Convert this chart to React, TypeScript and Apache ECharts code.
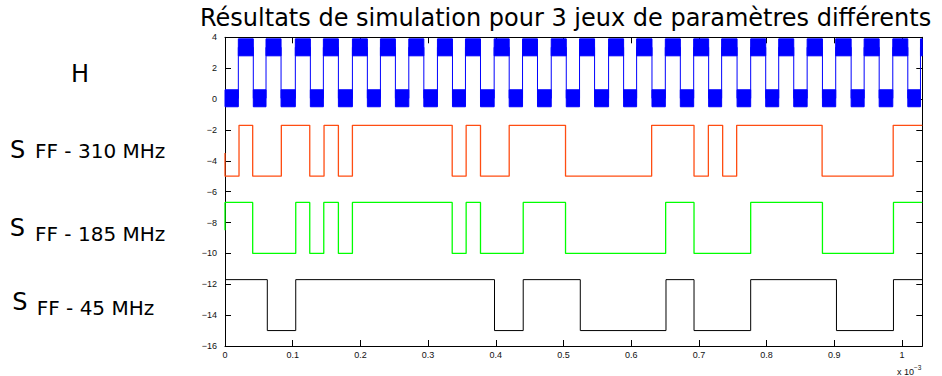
import React, { useEffect, useRef } from "react";
import * as echarts from "echarts";

// ---------- data (x in units of 1e-3 s) ----------
const X_MAX = 1.03;
const Y_MIN = -16;
const Y_MAX = 4;

// H : clock edges
const hRises = [0.0197, 0.0606, 0.1039, 0.1453, 0.1882, 0.2296, 0.2715, 0.3138, 0.3552, 0.3976, 0.4395, 0.4819, 0.5237, 0.5666, 0.608, 0.6504, 0.6923, 0.7336, 0.7765, 0.8179, 0.8599, 0.9021, 0.9441, 0.9864, 1.0273];
const hFalls = [0.0418, 0.0828, 0.1261, 0.1675, 0.2103, 0.2517, 0.2937, 0.336, 0.3774, 0.4198, 0.4616, 0.5041, 0.5459, 0.5888, 0.6307, 0.6726, 0.7144, 0.7564, 0.7987, 0.8401, 0.8825, 0.9249, 0.9663, 1.0086];
const hLevels = [0.05, 3.35]; // low, high
const hLowBand = [-0.5, 0.6];
const hHighBand = [2.8, 3.9];

// S FF - 310 MHz
const s310Start = -3.5;
const s310Levels = [-5, -1.7]; // first level, other level
const s310Edges = [0.0207, 0.0409, 0.0832, 0.1252, 0.1463, 0.1675, 0.1882, 0.3356, 0.3562, 0.3774, 0.4198, 0.503, 0.6302, 0.6928, 0.714, 0.7351, 0.7558, 0.882, 0.987];

// S FF - 185 MHz
const s185Start = -8.5;
const s185Levels = [-6.7, -10];
const s185Edges = [0.0409, 0.1045, 0.1252, 0.1459, 0.1675, 0.1882, 0.3356, 0.3562, 0.3774, 0.4405, 0.503, 0.6509, 0.6928, 0.7765, 0.8825, 0.9874];

// S FF - 45 MHz
const s45Start = -11.7;
const s45Levels = [-11.7, -15];
const s45Edges = [0.0625, 0.1045, 0.3981, 0.4405, 0.5248, 0.6514, 0.6928, 0.7765, 0.9032, 0.9874];

const titleText = "Résultats de simulation pour 3 jeux de paramètres différents";

// ---------- helpers ----------
function stepPoints(start: number, levels: number[], edges: number[]) {
  const pts: number[][] = [[0, start]];
  let idx = 0;
  pts.push([0, levels[idx]]);
  for (const t of edges) {
    idx = 1 - idx;
    pts.push([t, levels[idx]]);
  }
  pts.push([X_MAX, levels[idx]]);
  return pts;
}

function clockEdges() {
  const e: number[] = [];
  for (let i = 0; i < hRises.length; i++) {
    e.push(hRises[i]);
    if (i < hFalls.length) e.push(hFalls[i]);
  }
  return e;
}

function clockBands() {
  const areas: any[] = [];
  const band = (x0: number, x1: number, b: number[]) => [
    { xAxis: x0, yAxis: b[0] },
    { xAxis: x1, yAxis: b[1] },
  ];
  areas.push(band(0, hRises[0], hLowBand));
  for (let i = 0; i < hFalls.length; i++) {
    areas.push(band(hRises[i], hFalls[i], hHighBand));
    if (i + 1 < hRises.length) areas.push(band(hFalls[i], hRises[i + 1], hLowBand));
  }
  if (hRises.length > hFalls.length) areas.push(band(hRises[hRises.length - 1], X_MAX, hHighBand));
  return areas;
}

const minus = (v: number) => (v < 0 ? "\u2212" + Math.abs(v) : String(v));

export default function App() {
  const ref = useRef<HTMLDivElement>(null);
  useEffect(() => {
    if (!ref.current) return;
    const chart = echarts.init(ref.current, undefined, { renderer: "svg" });
    const axisFont = "Liberation Sans";
    const lineStyle = { color: "#000", width: 1 };
    const common = {
      type: "value" as const,
      splitLine: { show: false },
      axisLine: { show: true, onZero: false, lineStyle },
      axisTick: { show: true, inside: true, length: 6, lineStyle },
    };
    const labelFont = "DejaVu Sans";
    const txt = (text: string, x: number, y: number, size: number) => ({
      type: "text",
      x,
      y,
      silent: true,
      style: {
        text,
        fontFamily: labelFont,
        fontSize: size,
        fill: "#000",
        align: "left",
        verticalAlign: "middle",
      },
    });

    const hData = stepPoints(hLevels[0], hLevels, clockEdges());

    chart.setOption({
      animation: false,
      backgroundColor: "#fff",
      grid: { left: 225, top: 37.3, width: 697.3, height: 308.7, containLabel: false },
      xAxis: [
        {
          ...common,
          min: 0,
          max: X_MAX,
          interval: 0.1,
          position: "bottom",
          axisLabel: {
            fontSize: 9,
            fontFamily: axisFont,
            color: "#111",
            margin: 4,
            showMaxLabel: false,
            formatter: (v: number) => String(+v.toFixed(1)),
          },
        },
        {
          ...common,
          min: 0,
          max: X_MAX,
          interval: 0.1,
          position: "top",
          axisLabel: { show: false },
        },
      ],
      yAxis: [
        {
          ...common,
          min: Y_MIN,
          max: Y_MAX,
          interval: 2,
          position: "left",
          axisLabel: {
            fontSize: 9,
            fontFamily: axisFont,
            color: "#111",
            margin: 8,
            formatter: (v: number) => minus(v),
          },
        },
        {
          ...common,
          min: Y_MIN,
          max: Y_MAX,
          interval: 2,
          position: "right",
          axisLabel: { show: false },
        },
      ],
      series: [
        {
          name: "H",
          type: "line",
          step: "end",
          data: hData,
          showSymbol: false,
          symbol: "none",
          lineStyle: { color: "#0000ff", width: 1 },
          markArea: {
            silent: true,
            label: { show: false },
            itemStyle: { color: "#0000ff", borderColor: "#0000ff", borderWidth: 1 },
            data: clockBands(),
          },
        },
        {
          name: "S FF - 310 MHz",
          type: "line",
          step: "end",
          data: stepPoints(s310Start, s310Levels, s310Edges),
          symbol: "none",
          lineStyle: { color: "#ff4d12", width: 1.3 },
        },
        {
          name: "S FF - 185 MHz",
          type: "line",
          step: "end",
          data: stepPoints(s185Start, s185Levels, s185Edges),
          symbol: "none",
          lineStyle: { color: "#00ff00", width: 1.3 },
        },
        {
          name: "S FF - 45 MHz",
          type: "line",
          step: "end",
          data: stepPoints(s45Start, s45Levels, s45Edges),
          symbol: "none",
          lineStyle: { color: "#000000", width: 1 },
        },
      ],
      graphic: [
        txt(titleText, 200, 18.4, 24),
        txt("H", 71, 73.7, 24),
        txt("S", 10, 149.7, 24),
        txt("FF - 310 MHz", 35, 151.1, 20),
        txt("S", 9.7, 228.4, 24),
        txt("FF - 185 MHz", 35, 234.1, 20),
        txt("S", 12.3, 301.7, 24),
        txt("FF - 45 MHz", 36.7, 308.1, 20),
        {
          type: "text",
          x: 897,
          y: 371.9,
          silent: true,
          style: { text: "x 10", fontFamily: axisFont, fontSize: 9, fill: "#111", verticalAlign: "middle" },
        },
        {
          type: "text",
          x: 914,
          y: 367.3,
          silent: true,
          style: { text: "\u22123", fontFamily: axisFont, fontSize: 6.5, fill: "#111", verticalAlign: "middle" },
        },
      ],
    });
    return () => chart.dispose();
  }, []);
  return <div ref={ref} style={{ width: 942, height: 376, position: "absolute", left: 0, top: 0 }} />;
}
